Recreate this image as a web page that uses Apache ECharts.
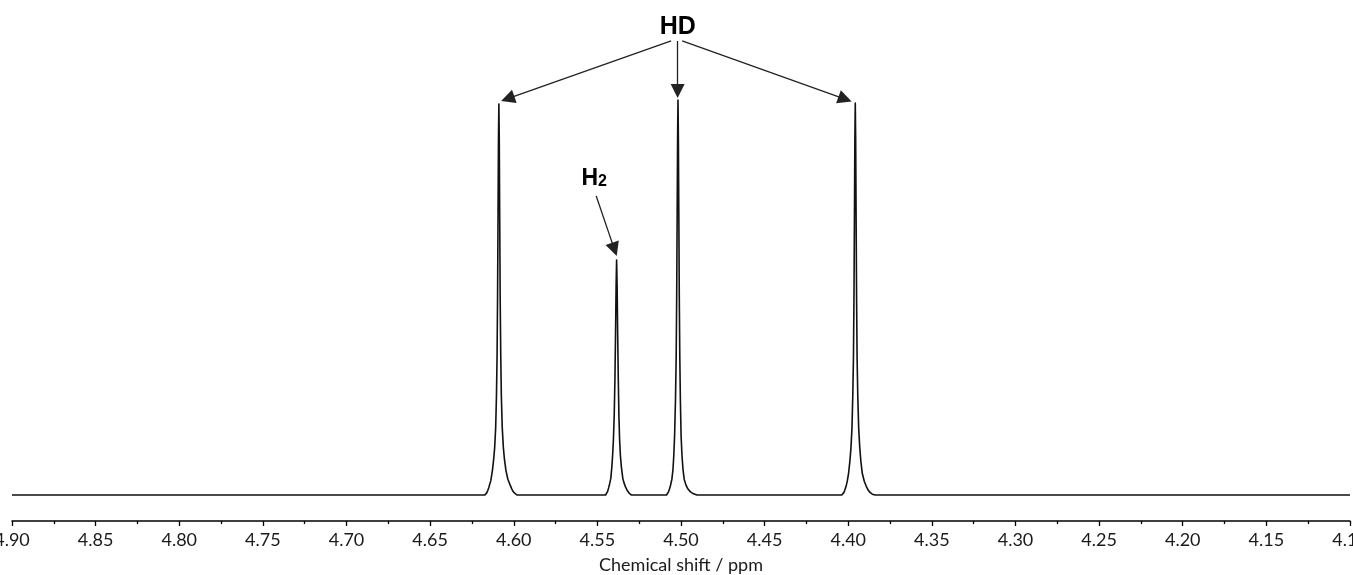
<!DOCTYPE html>
<html>
<head>
<meta charset="utf-8">
<script src="https://cdn.jsdelivr.net/npm/echarts@6/dist/echarts.min.js"></script>
<style>
  html, body { margin: 0; padding: 0; background: #fff; }
  #chart { width: 1353px; height: 575px; }
</style>
</head>
<body>
<div id="chart"></div>
<script>
// spectrum points [ppm, intensity]
var baselineLeft = [[4.90, 0]];
var peakHD1 = [
    [4.61727, 0], [4.61667, 0.002], [4.61608, 0.006], [4.61548, 0.012], [4.61488, 0.019],
    [4.61452, 0.025], [4.61368, 0.037], [4.61273, 0.063], [4.61201, 0.09], [4.61141, 0.12],
    [4.61081, 0.17], [4.61034, 0.25], [4.60998, 0.35], [4.60968, 0.50], [4.60938, 0.72],
    [4.60914, 0.90], [4.60890, 0.99], [4.60866, 0.90], [4.60842, 0.72], [4.60812, 0.50],
    [4.60776, 0.35], [4.60741, 0.25], [4.60687, 0.17], [4.60621, 0.12], [4.60555, 0.09],
    [4.60471, 0.063], [4.60352, 0.04], [4.60214, 0.025], [4.60113, 0.015], [4.60023, 0.008],
    [4.59933, 0.003], [4.59814, 0]
];
var peakH2 = [
    [4.54508, 0], [4.54448, 0.003], [4.54388, 0.009], [4.54328, 0.018], [4.54269, 0.028],
    [4.54197, 0.042], [4.54137, 0.07], [4.54089, 0.10], [4.54041, 0.14], [4.53994, 0.20],
    [4.53952, 0.29], [4.53916, 0.40], [4.53880, 0.53], [4.53850, 0.595], [4.53820, 0.53],
    [4.53784, 0.40], [4.53748, 0.29], [4.53712, 0.20], [4.53671, 0.14], [4.53623, 0.10],
    [4.53563, 0.07], [4.53479, 0.042], [4.53402, 0.03], [4.53312, 0.02], [4.53222, 0.012],
    [4.53103, 0.005], [4.52953, 0]
];
var peakHD2 = [
    [4.50868, 0], [4.50808, 0.003], [4.50748, 0.008], [4.50688, 0.015], [4.50629, 0.024],
    [4.50545, 0.04], [4.50479, 0.065], [4.50431, 0.10], [4.50383, 0.15], [4.50330, 0.24],
    [4.50288, 0.35], [4.50258, 0.50], [4.50228, 0.72], [4.50204, 0.90], [4.50180, 1.0],
    [4.50156, 0.90], [4.50132, 0.72], [4.50102, 0.50], [4.50072, 0.35], [4.50037, 0.24],
    [4.49995, 0.15], [4.49941, 0.10], [4.49881, 0.065], [4.49809, 0.04], [4.49702, 0.025],
    [4.49582, 0.015], [4.49433, 0.008], [4.49253, 0.003], [4.49044, 0]
];
var peakHD3 = [
    [4.40387, 0], [4.40328, 0.002], [4.40268, 0.006], [4.40208, 0.012], [4.40130, 0.022],
    [4.40058, 0.035], [4.39981, 0.055], [4.39903, 0.085], [4.39837, 0.12], [4.39777, 0.17],
    [4.39730, 0.25], [4.39688, 0.35], [4.39658, 0.50], [4.39628, 0.72], [4.39604, 0.90],
    [4.39580, 0.992], [4.39556, 0.90], [4.39532, 0.72], [4.39502, 0.50], [4.39472, 0.35],
    [4.39430, 0.25], [4.39377, 0.17], [4.39311, 0.12], [4.39245, 0.085], [4.39161, 0.055],
    [4.39042, 0.035], [4.38922, 0.022], [4.38803, 0.012], [4.38683, 0.006], [4.38563, 0.002],
    [4.38384, 0]
];
var baselineRight = [[4.10, 0]];

// annotation arrows [from, to] in data coordinates
var arrowsHD = [
    [[4.5059, 1.1494], [4.6036, 1.0033]],
    [[4.5020, 1.1494], [4.5020, 1.0228]],
    [[4.4993, 1.1494], [4.4019, 1.0022]]
];
var arrowH2 = [[4.5507, 0.757], [4.5398, 0.6218]];
var labelHD = [4.5019, 1.1841];
var labelH2 = [4.5519, 0.8013];

var spectrum = baselineLeft.concat(peakHD1, peakH2, peakHD2, peakHD3, baselineRight);

var arrowData = arrowsHD.concat([arrowH2]).map(function (a) {
    return [{ coord: a[0] }, { coord: a[1] }];
});

var myChart = echarts.init(document.getElementById('chart'));

var option = {
    backgroundColor: '#fff',
    animation: false,
    grid: { left: 12, right: 3, top: 10, bottom: 54, containLabel: false, outerBoundsMode: 'none' },
    xAxis: {
        type: 'value',
        inverse: true,
        min: 4.10,
        max: 4.90,
        interval: 0.05,
        name: 'Chemical shift / ppm',
        nameLocation: 'middle',
        nameGap: 35,
        nameTextStyle: { fontFamily: 'Lato', fontSize: 18, color: '#1a1a1a' },
        splitLine: { show: false },
        axisLine: { // 轴线
            show: true,
            onZero: false,
            lineStyle: { color: '#000', width: 1.5 }
        },
        axisTick: { // 轴标记
            show: true,
            length: 5,
            lineStyle: { color: '#000', width: 1.3 }
        },
        minorTick: {
            show: true,
            splitNumber: 2,
            length: 3,
            lineStyle: { color: '#000', width: 1.3 }
        },
        axisLabel: {
            margin: 10,
            fontFamily: 'Lato',
            fontSize: 18,
            color: '#1a1a1a',
            showMinLabel: true,
            showMaxLabel: true,
            formatter: function (v) { return v.toFixed(2); }
        }
    },
    yAxis: {
        type: 'value',
        min: -0.0658,
        max: 1.2278,
        show: false
    },
    series: [{
        type: 'line',
        data: spectrum,
        showSymbol: false,
        smooth: false,
        clip: false,
        silent: true,
        lineStyle: { color: '#111', width: 1.6, join: 'round' },
        markLine: {
            silent: true,
            symbol: ['none', 'triangle'],
            symbolSize: 14,
            label: { show: false },
            lineStyle: { color: '#222', width: 1.3, type: 'solid' },
            itemStyle: { color: '#222' },
            emphasis: { disabled: true },
            data: arrowData
        },
        markPoint: {
            silent: true,
            symbol: 'circle',
            symbolSize: 0,
            label: {
                show: true,
                position: 'inside',
                color: '#000',
                fontFamily: 'Liberation Sans',
                fontWeight: 'bold'
            },
            data: [
                { coord: labelHD, label: { formatter: 'HD', fontSize: 25 } },
                {
                    coord: labelH2,
                    label: {
                        formatter: '{h|H}{s|2}',
                        rich: {
                            h: { fontSize: 23, fontWeight: 'bold', fontFamily: 'Liberation Sans', color: '#000' },
                            s: { fontSize: 16, fontWeight: 'bold', fontFamily: 'Liberation Sans', color: '#000', verticalAlign: 'bottom' }
                        }
                    }
                }
            ]
        }
    }]
};

myChart.setOption(option);
</script>
</body>
</html>
